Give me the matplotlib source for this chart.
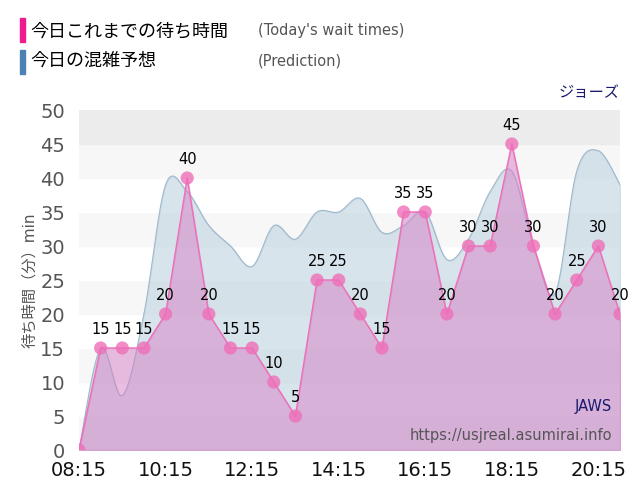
import matplotlib
matplotlib.use('Agg')
import matplotlib.pyplot as plt
import numpy as np

plt.rcParams['font.family'] = ['DejaVu Sans', 'Noto Sans CJK JP']

# 時刻ラベル (30分ごと)
times = ['08:15', '08:45', '09:15', '09:45', '10:15', '10:45', '11:15', '11:45',
         '12:15', '12:45', '13:15', '13:45', '14:15', '14:45', '15:15', '15:45',
         '16:15', '16:45', '17:15', '17:45', '18:15', '18:45', '19:15', '19:45',
         '20:15', '20:45']
wait = [0, 15, 15, 15, 20, 40, 20, 15, 15, 10, 5, 25, 25, 20, 15, 35, 35, 20,
        30, 30, 45, 30, 20, 25, 30, 20]
pred = [0, 15, 8, 20, 39, 38, 33, 30, 27, 33, 31, 35, 35, 37, 32, 33, 35, 28,
        31, 38, 41, 30, 23, 41, 44, 39]

x = np.arange(len(times))

fig = plt.figure(figsize=(6.4, 5.0), dpi=100)
ax = fig.add_axes([79/640, 50/500, 541/640, 340/500])

# 背景の縞
for lo in range(0, 50, 5):
    c = '#ececec' if lo == 45 else ('#f7f7f7' if (lo // 5) % 2 == 0 else '#ffffff')
    ax.axhspan(lo, lo + 5, color=c, zorder=0)

# 予想 (なめらかな曲線で描画)
def catmull(xs, ys, n=12):
    px, py = [], []
    xs = list(xs); ys = list(ys)
    xx = [xs[0]] + xs + [xs[-1]]
    yy = [ys[0]] + ys + [ys[-1]]
    for i in range(1, len(xx) - 2):
        t = np.linspace(0, 1, n, endpoint=False)
        for a in (xx, yy):
            p0, p1, p2, p3 = a[i-1], a[i], a[i+1], a[i+2]
            v = 0.5 * ((2*p1) + (-p0+p2)*t + (2*p0-5*p1+4*p2-p3)*t**2 + (-p0+3*p1-3*p2+p3)*t**3)
            (px if a is xx else py).extend(v)
    px.append(xs[-1]); py.append(ys[-1])
    return np.array(px), np.clip(np.array(py), 0, None)

sx, sy = catmull(x, pred)
ax.fill_between(sx, sy, color='#b9cfdc', alpha=0.55, zorder=1)
ax.plot(sx, sy, color='#9fb8cc', lw=0.8, zorder=2)

# 今日の待ち時間
ax.fill_between(x, wait, color='#d77fc7', alpha=0.5, zorder=3)
ax.plot(x, wait, color='#ee6fb8', lw=1, zorder=4)
ax.scatter(x, wait, s=90, color='#ee6fb8', alpha=0.8, zorder=5, edgecolors='none')
for xi, w in zip(x[1:], wait[1:]):
    ax.text(xi, w + 1.6, str(w), ha='center', va='bottom', fontsize=10.5, zorder=6)

ax.set_xlim(0, len(times) - 1)
ax.set_ylim(0, 50)
ax.set_yticks(range(0, 51, 5))
ax.set_xticks(x[::4])
ax.set_xticklabels(times[::4])
ax.tick_params(axis='both', labelsize=14, length=0, colors='#111111')
ax.tick_params(axis='x', pad=8)
ax.tick_params(axis='y', colors='#555555', pad=10)
for s in ax.spines.values():
    s.set_visible(False)
ax.set_ylabel('待ち時間（分）min', fontsize=11, color='#555555', labelpad=2)

ax.text(0.985, 0.115, 'JAWS', transform=ax.transAxes, ha='right', fontsize=10.5, color='#1a1a6e', zorder=7)
ax.text(0.985, 0.03, 'https://usjreal.asumirai.info', transform=ax.transAxes, ha='right',
        fontsize=10.5, color='#555555', zorder=7)
fig.text(620/640, 1 - 93/500, 'ジョーズ', ha='right', va='center', fontsize=11, color='#1a1a6e')

# 凡例
fig.patches.append(plt.Rectangle((20/640, 1 - 42/500), 5/640, 24/500, color='#ee1d8f', transform=fig.transFigure))
fig.patches.append(plt.Rectangle((20/640, 1 - 74/500), 5/640, 24/500, color='#4a82b4', transform=fig.transFigure))
fig.text(30/640, 1 - 31/500, '今日これまでの待ち時間', va='center', fontsize=13, family='Noto Sans CJK JP')
fig.text(30/640, 1 - 61/500, '今日の混雑予想', va='center', fontsize=13, family='Noto Sans CJK JP')
fig.text(258/640, 1 - 31/500, "(Today's wait times)", va='center', fontsize=10.5, color='#555555')
fig.text(258/640, 1 - 61/500, '(Prediction)', va='center', fontsize=10.5, color='#555555')

fig.savefig('out.png', dpi=100)
